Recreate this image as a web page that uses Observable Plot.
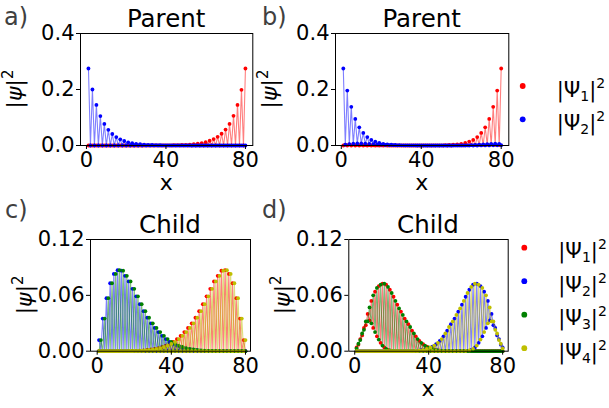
<!DOCTYPE html>
<html>
<head>
<meta charset="utf-8">
<script src="https://cdn.jsdelivr.net/npm/d3@7"></script>
<script src="https://cdn.jsdelivr.net/npm/@observablehq/plot@0.6"></script>
<style>
  html,body{margin:0;padding:0;background:#fff;}
  #fig{position:relative;width:609px;height:408px;overflow:hidden;background:#fff;}
  #fig svg{position:absolute;left:0;top:0;}
</style>
</head>
<body>
<div id="fig"></div>
<script>
// ---------------- DATA ----------------
// lattice sites 1..80
const siteCount = 80;
const xTicks = [0, 40, 80];
const yTicksParent = [0, 0.2, 0.4];
const yTicksChild = [0, 0.06, 0.12];
const seriesNames = ["Ψ1", "Ψ2", "Ψ3", "Ψ4"];
const seriesColors = ["#ff0000", "#0000ff", "#008000", "#bfbf00"];
const panelTitles = ["Parent", "Parent", "Child", "Child"];
const panelLetters = ["a)", "b)", "c)", "d)"];

// Panel a (Parent): values on odd sites (x=1,3,..,79) and even sites (x=2,4,..,80)
const aPsi1Odd = new Array(40).fill(0);
const aPsi1Even = [0,0,0,0,0,0,0,0,0,0,0,0,0,0,
  0.0001,0.0001,0.0002,0.0003,0.0004,0.0005,0.0007,0.001,0.0013,0.0018,
  0.0025,0.0034,0.0046,0.0063,0.0086,0.012,0.017,0.023,0.031,0.042,
  0.057,0.077,0.106,0.145,0.199,0.275];
const aPsi2Odd = [0.275,0.200,0.145,0.105,0.077,0.056,0.041,0.030,0.022,0.016,
  0.0115,0.0084,0.0061,0.0045,0.0033,0.0024,0.0017,0.0013,0.0009,0.0007,
  0.0005,0.0004,0.0003,0.0002,0.0001,0.0001,0,0,0,0,
  0,0,0,0,0,0,0,0,0,0];
const aPsi2Even = new Array(40).fill(0);

// Panel b (Parent, mixed)
const bPsi1Odd = [0,0,0,0,0,0,0,0,0,0,0,0,0,0,0,0,0,0,0,0,0,0,0,0,0,0,0,0,
  0.0001,0.0002,0.0004,0.0006,0.001,0.0015,0.002,0.0025,0.003,0.003,0.0025,0.0015];
const bPsi1Even = [0.003,0.0035,0.003,0.0025,0.002,0.0015,0.001,0.0007,0.0004,0.0002,
  0.0001,0,0,0,0,0,0,0,0,0,
  0.0001,0.0002,0.0003,0.0005,0.0008,0.0012,0.0018,0.0027,0.004,0.006,
  0.009,0.014,0.020,0.030,0.045,0.065,0.095,0.138,0.196,0.275];
const bPsi2Odd = [0.275,0.196,0.138,0.095,0.065,0.045,0.030,0.020,0.014,0.009,
  0.006,0.004,0.0027,0.0018,0.0012,0.0008,0.0005,0.0003,0.0002,0.0001,
  0,0,0,0,0,0,0,0,0.0001,0.0002,
  0.0004,0.0008,0.0013,0.002,0.003,0.004,0.005,0.006,0.0065,0.006];
const bPsi2Even = [0.003,0.005,0.0065,0.0075,0.0075,0.007,0.006,0.005,0.004,0.003,
  0.002,0.0015,0.001,0.0007,0.0005,0.0003,0.0002,0.0001,0,0,
  0,0,0,0,0,0,0,0,0,0,
  0,0,0,0,0.0001,0.0002,0.0004,0.0006,0.0008,0.001];

// Panel c (Child): left bump (pairs of sites 2j+1, 2j+2) and right bump
const cLeftPairs = [0.012,0.035,0.057,0.073,0.083,0.087,0.0865,0.081,0.075,0.067,
  0.059,0.0505,0.043,0.036,0.030,0.025,0.0205,0.0165,0.013,0.010,
  0.0078,0.006,0.0045,0.0034,0.0025,0.0018,0.0013,0.0009,0.0006,0.0004,
  0.0003,0.0002,0.00015,0.0001,0.0001,0.00005,0.00005,0,0,0];
const cRightPairs = [0,0,0,0.00005,0.00005,0.0001,0.0001,0.00015,0.0002,0.0003,
  0.0004,0.0006,0.0009,0.0013,0.0018,0.0025,0.0034,0.0045,0.006,0.0078,
  0.010,0.013,0.0165,0.0205,0.025,0.030,0.036,0.043,0.0505,0.059,
  0.067,0.075,0.081,0.0865,0.087,0.083,0.073,0.057,0.035,0.012];
const zeroPairs = new Array(40).fill(0);

// Panel d (Child): upper and lower envelopes, sites 1..80
const dUpperL = [0.004,0.008,0.013,0.019,0.025,0.032,0.040,0.047,0.054,0.060,
  0.064,0.068,0.070,0.0715,0.0725,0.0725,0.0715,0.069,0.066,0.0625,
  0.0585,0.054,0.050,0.046,0.0425,0.039,0.035,0.032,0.029,0.026,
  0.022,0.019,0.016,0.013,0.011,0.009,0.0075,0.006,0.005,0.004,
  0.003,0.0025,0.002,0.0015,0.001,0.0007,0.0005,0.0003,0.0002,0.0001,
  0,0,0,0,0,0,0,0,0,0,0,0,0,0,0,0,0,0,0,0,0,0,0,0,0,0,0,0,0,0];
const dLowerL = [0.003,0.007,0.012,0.017,0.023,0.028,0.032,0.033,0.030,0.025,
  0.0205,0.016,0.0125,0.009,0.006,0.004,0.0025,0.0015,0.0008,0.0004,
  0.0002,0.0001,
  0,0,0,0,0,0,0,0,0,0,0,0,0,0,0,0,0,0,0,0,0,0,0,0,0,0,0,0,0,0,0,0,0,0,0,0,0,0,0,0,0,0,0,0,0,0,0,0,0,0,0,0,0,0,0,0,0,0,0,0,0,0];
const dUpperR = [0,0,0,0,0,0,0,0,0,0,0,0,0,0,0,0,0,0,0,0,0,0,0,0,0,0,0,0,0,0,
  0.0001,0.0002,0.0003,0.0005,0.0007,0.001,0.0015,0.002,0.0025,0.003,
  0.004,0.005,0.006,0.0075,0.009,0.011,0.013,0.016,0.019,0.022,
  0.026,0.029,0.032,0.035,0.039,0.0425,0.046,0.050,0.054,0.0585,
  0.0625,0.066,0.069,0.0715,0.0725,0.0725,0.0715,0.070,0.068,0.064,
  0.060,0.054,0.047,0.040,0.032,0.025,0.019,0.013,0.008,0.004];
const dLowerR = [0,0,0,0,0,0,0,0,0,0,0,0,0,0,0,0,0,0,0,0,0,0,0,0,0,0,0,0,0,0,0,0,0,0,0,0,0,0,0,0,0,0,0,0,0,0,0,0,0,0,0,0,0,0,0,0,0,0,
  0.0001,0.0002,0.0004,0.0008,0.0015,0.0025,0.004,0.006,0.009,0.0125,
  0.016,0.0205,0.025,0.030,0.033,0.032,0.028,0.023,0.017,0.012,
  0.007,0.003];

// ---------------- BUILD ----------------
const sites = d3.range(1, siteCount + 1);
const fromParity = (odd, even) => sites.map(x => x % 2 ? odd[(x - 1) / 2] : even[x / 2 - 1]);
const fromEnvelopes = (oddArr, evenArr) => sites.map(x => x % 2 ? oddArr[x - 1] : evenArr[x - 1]);

const panels = [
  { frame: [80, 33, 252.3, 145], xDomain: [-3, 83.7], yDomain: [0, 0.4], yTicks: yTicksParent, fmt: d => d.toFixed(1),
    series: [fromParity(aPsi1Odd, aPsi1Even), fromParity(aPsi2Odd, aPsi2Even)] },
  { frame: [335, 33, 508.3, 145], xDomain: [-2.9, 83.8], yDomain: [0, 0.4], yTicks: yTicksParent, fmt: d => d.toFixed(1),
    series: [fromParity(bPsi1Odd, bPsi1Even), fromParity(bPsi2Odd, bPsi2Even)] },
  { frame: [90, 239, 250, 350.7], xDomain: [-3.6, 82.7], yDomain: [0, 0.12], yTicks: yTicksChild, fmt: d => d.toFixed(2),
    series: [fromParity(cRightPairs, zeroPairs), fromParity(cLeftPairs, zeroPairs),
             fromParity(zeroPairs, cLeftPairs), fromParity(zeroPairs, cRightPairs)] },
  { frame: [348.3, 239, 507.7, 350.7], xDomain: [-3.2, 83], yDomain: [0, 0.12], yTicks: yTicksChild, fmt: d => d.toFixed(2),
    series: [fromEnvelopes(dUpperL, dLowerL), fromEnvelopes(dLowerR, dUpperR),
             fromEnvelopes(dLowerL, dUpperL), fromEnvelopes(dUpperR, dLowerR)] }
];

const fig = document.getElementById("fig");
const W = 609, H = 408;

for (const p of panels) {
  const [l, t, r, b] = p.frame;
  const marks = [];
  p.series.forEach((vals, i) => {
    const data = sites.map((x, k) => ({x, y: vals[k]}));
    marks.push(Plot.line(data, {x: "x", y: "y", stroke: seriesColors[i], strokeOpacity: 0.5, strokeWidth: 1.1}));
    marks.push(Plot.dot(data, {x: "x", y: "y", r: 1.9, fill: seriesColors[i], stroke: "none"}));
  });
  marks.push(Plot.frame({stroke: "#000", strokeWidth: 1}));
  marks.push(Plot.axisX({ticks: xTicks, tickSize: 4, tickPadding: 3, label: null, fontSize: 21, tickFormat: d => String(d)}));
  marks.push(Plot.axisY({ticks: p.yTicks, tickSize: 4, tickPadding: 2, label: null, fontSize: 21, tickFormat: p.fmt}));
  const svg = Plot.plot({
    width: W, height: H,
    marginLeft: l, marginTop: t, marginRight: W - r, marginBottom: H - b,
    x: {domain: p.xDomain},
    y: {domain: p.yDomain},
    style: {background: "none", fontFamily: "DejaVu Sans", fontSize: "21px", color: "#000", overflow: "visible"},
    marks
  });
  fig.appendChild(svg);
}

// ---------------- TEXT OVERLAY ----------------
const over = d3.select(fig).append("svg").attr("width", W).attr("height", H)
  .style("font-family", "DejaVu Sans").style("overflow", "visible");

const letterPos = [[4, 25], [262, 25], [5, 218], [262, 218]];
panelLetters.forEach((s, i) => {
  over.append("text").attr("x", letterPos[i][0]).attr("y", letterPos[i][1])
    .attr("font-size", 24).attr("fill", "#404040").text(s);
});

panels.forEach((p, i) => {
  const [l, t, r, b] = p.frame;
  const cx = (l + r) / 2;
  over.append("text").attr("x", cx).attr("y", t - 6).attr("text-anchor", "middle")
    .attr("font-size", 24.5).attr("fill", "#000").text(panelTitles[i]);
  over.append("text").attr("x", cx).attr("y", b + 45).attr("text-anchor", "middle")
    .attr("font-size", 22).attr("fill", "#000").text("x");
  const yl = over.append("text")
    .attr("transform", `translate(${l - 58},${(t + b) / 2}) rotate(-90)`)
    .attr("text-anchor", "middle").attr("font-size", 22).attr("fill", "#000");
  yl.append("tspan").text("|");
  yl.append("tspan").attr("font-style", "italic").text("ψ");
  yl.append("tspan").text("|");
  yl.append("tspan").attr("font-size", 15).attr("dy", -9).text("2");
});

// legends
function legend(items, x0, y0, step) {
  items.forEach((i, k) => {
    const y = y0 + k * step;
    over.append("circle").attr("cx", x0).attr("cy", y).attr("r", 2.9).attr("fill", seriesColors[i]);
    const t = over.append("text").attr("x", x0 + 34).attr("y", y + 10.5).attr("font-size", 21).attr("fill", "#000");
    t.append("tspan").text("|Ψ");
    t.append("tspan").attr("font-size", 14).attr("dy", 4).text(seriesNames[i].slice(1));
    t.append("tspan").attr("dy", -4).text("|");
    t.append("tspan").attr("font-size", 14).attr("dy", -9).text("2");
  });
}
legend([0, 1], 522.7, 86, 33.3);
legend([0, 1, 2, 3], 524.3, 247.7, 33.5);
</script>
</body>
</html>
